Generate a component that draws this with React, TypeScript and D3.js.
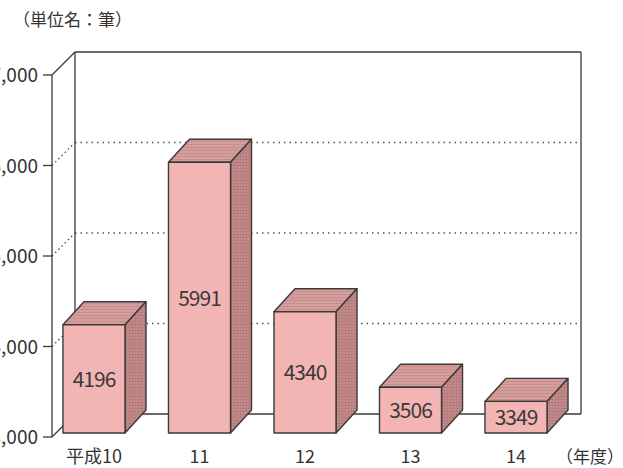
import * as d3 from "d3";

const years = ["平成10", "11", "12", "13", "14"];
const counts = [4196, 5991, 4340, 3506, 3349];
const ticks = [3000, 4000, 5000, 6000, 7000];

const W = 623;
const H = 468;
// depth of the 3D box (back wall is shifted right/up by this)
const DEPTH = 23;
const BAR_DEPTH = 21;

const FRONT = "#f3b5b3";
const TOP = "#d69d9d";
const SIDE = "#c48a8a";
const EDGE = "#3a3a3a";
const FONT = "'Noto Sans CJK JP', 'Noto Sans', sans-serif";

export default function App() {
  const x = d3.scaleBand<string>().domain(years).range([52, 558]).paddingInner(0.412).paddingOuter(0.104);
  const y = d3.scaleLinear().domain([3000, 7000]).range([437, 75]);
  const fmt = d3.format(",");

  const x0 = 52;
  const x1 = 558;
  const bw = x.bandwidth();
  const barBase = y(3000) - 4;

  return (
    <svg width={W} height={H} style={{ position: "absolute", left: 0, top: 0, background: "#fff" }}>
      <defs>
        <pattern id="hatch" width="3" height="3" patternUnits="userSpaceOnUse">
          <rect width="3" height="3" fill={SIDE} />
          <line x1="0" y1="0.5" x2="3" y2="0.5" stroke="#ab7474" strokeWidth="0.6" />
          <line x1="0.5" y1="0" x2="0.5" y2="3" stroke="#ab7474" strokeWidth="0.4" />
        </pattern>
        <pattern id="hatchTop" width="3" height="3" patternUnits="userSpaceOnUse">
          <rect width="3" height="3" fill={TOP} />
          <line x1="0" y1="0.5" x2="3" y2="0.5" stroke="#bf8787" strokeWidth="0.6" />
        </pattern>
      </defs>

      <text x={13} y={26} fontFamily={FONT} fontSize={17} fill="#333">（単位名：筆）</text>

      {/* back wall */}
      <line x1={x0 + DEPTH} x2={x1 + DEPTH} y1={y(7000) - DEPTH} y2={y(7000) - DEPTH} stroke={EDGE} strokeWidth={1.3} />
      <line x1={x0 + DEPTH} x2={x1 + DEPTH} y1={y(3000) - DEPTH} y2={y(3000) - DEPTH} stroke={EDGE} strokeWidth={1.3} />
      <line x1={x0 + DEPTH} x2={x0 + DEPTH} y1={y(7000) - DEPTH} y2={y(3000) - DEPTH} stroke={EDGE} strokeWidth={1.3} />
      <line x1={x1 + DEPTH} x2={x1 + DEPTH} y1={y(7000) - DEPTH} y2={y(3000) - DEPTH} stroke={EDGE} strokeWidth={1.3} />
      {ticks.slice(1, -1).map((t) => (
        <g key={`grid-${t}`}>
          <line x1={x0 + DEPTH} x2={x1 + DEPTH} y1={y(t) - DEPTH} y2={y(t) - DEPTH} stroke="#555" strokeWidth={1.4} strokeDasharray="1.5 4" />
          <line x1={x0} x2={x0 + DEPTH} y1={y(t)} y2={y(t) - DEPTH} stroke="#555" strokeWidth={1.4} strokeDasharray="1.5 3" />
        </g>
      ))}
      <line x1={x0} x2={x0 + DEPTH} y1={y(7000)} y2={y(7000) - DEPTH} stroke={EDGE} strokeWidth={1.3} />
      <line x1={x0} x2={x0 + DEPTH} y1={y(3000)} y2={y(3000) - DEPTH} stroke={EDGE} strokeWidth={1.3} />

      {/* bars */}
      {years.map((c, i) => {
        const bx = x(c)!;
        const top = y(counts[i]) - 4;
        const d = BAR_DEPTH;
        const dy = DEPTH;
        return (
          <g key={`bar-${c}`} stroke={EDGE} strokeWidth={1.4} strokeLinejoin="round">
            <path d={`M${bx},${top} L${bx + d},${top - dy} L${bx + bw + d},${top - dy} L${bx + bw},${top} Z`} fill="url(#hatchTop)" />
            <path d={`M${bx + bw},${top} L${bx + bw + d},${top - dy} L${bx + bw + d},${barBase - dy} L${bx + bw},${barBase} Z`} fill="url(#hatch)" />
            <rect x={bx} y={top} width={bw} height={barBase - top} fill={FRONT} />
            <text
              x={bx + bw / 2}
              y={(top + barBase) / 2 + 8}
              textAnchor="middle"
              fontFamily={FONT}
              fontSize={21}
              fill="#3a3a3a"
              stroke="none"
              letterSpacing={-1}
            >
              {counts[i]}
            </text>
          </g>
        );
      })}

      {/* front axis */}
      <line x1={x0} x2={x0} y1={y(7000)} y2={y(3000)} stroke={EDGE} strokeWidth={1.3} />
      {ticks.map((t) => (
        <g key={`tick-${t}`}>
          <line x1={x0 - 9} x2={x0} y1={y(t)} y2={y(t)} stroke={EDGE} strokeWidth={1.3} />
          <text x={38} y={y(t) + 7} textAnchor="end" fontFamily={FONT} fontSize={19} fill="#333">
            {fmt(t)}
          </text>
        </g>
      ))}

      {years.map((c) => (
        <text key={`lab-${c}`} x={x(c)! + bw / 2} y={463} textAnchor="middle" fontFamily={FONT} fontSize={18} fill="#333">
          {c}
        </text>
      ))}
      <text x={590} y={463} textAnchor="middle" fontFamily={FONT} fontSize={17} fill="#333">（年度）</text>
    </svg>
  );
}
